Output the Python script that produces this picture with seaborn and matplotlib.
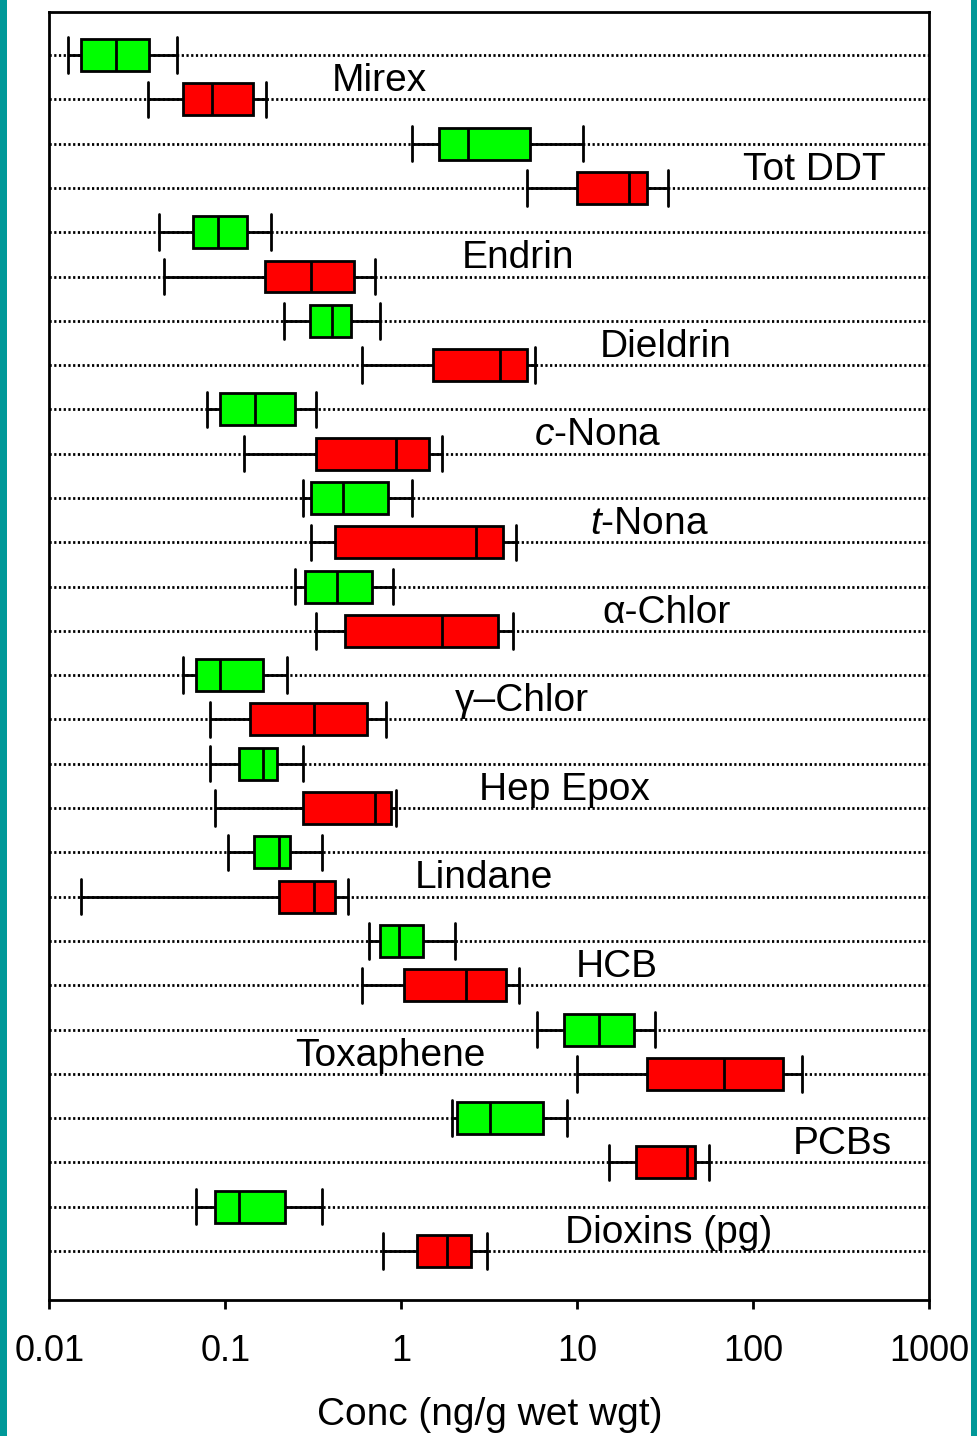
import matplotlib
matplotlib.use("Agg")
import matplotlib.pyplot as plt
from matplotlib.patches import Rectangle
from matplotlib.ticker import FixedLocator, FixedFormatter, NullLocator
import pandas as pd
import seaborn as sns

# Compounds, top to bottom
compounds = ["Mirex", "Tot DDT", "Endrin", "Dieldrin", "c-Nona", "t-Nona",
             "a-Chlor", "g-Chlor", "Hep Epox", "Lindane", "HCB", "Toxaphene",
             "PCBs", "Dioxins (pg)"]
compound_labels = ["Mirex", "Tot DDT", "Endrin", "Dieldrin", "$c$-Nona", "$t$-Nona",
                   "α-Chlor", "γ–Chlor", "Hep Epox", "Lindane", "HCB", "Toxaphene",
                   "PCBs", "Dioxins (pg)"]

series_names = ["Series 1", "Series 2"]
series_colors = ["#00FF00", "#FF0000"]

# Five-number summaries (ng/g wet weight) -- series 1 (green)
s1_min = [0.0127, 1.15, 0.0417, 0.216, 0.0782, 0.276, 0.248, 0.0576, 0.0813, 0.104, 0.656, 5.91, 1.94, 0.0682]
s1_q1  = [0.0151, 1.63, 0.0654, 0.303, 0.0931, 0.305, 0.284, 0.068, 0.119, 0.146, 0.752, 8.35, 2.08, 0.0868]
s1_med = [0.0240, 2.40, 0.0910, 0.403, 0.147, 0.465, 0.432, 0.0931, 0.163, 0.201, 0.972, 13.25, 3.17, 0.120]
s1_q3  = [0.0366, 5.37, 0.133, 0.517, 0.249, 0.841, 0.682, 0.163, 0.195, 0.233, 1.325, 20.9, 6.39, 0.217]
s1_max = [0.0532, 10.7, 0.181, 0.758, 0.328, 1.15, 0.898, 0.224, 0.276, 0.352, 2.01, 27.7, 8.68, 0.352]

# Five-number summaries -- series 2 (red)
s2_min = [0.0364, 5.14, 0.0449, 0.594, 0.128, 0.305, 0.327, 0.0813, 0.0868, 0.0152, 0.594, 9.97, 15.2, 0.785]
s2_q1  = [0.0571, 9.94, 0.168, 1.52, 0.327, 0.417, 0.480, 0.137, 0.276, 0.201, 1.03, 24.7, 21.4, 1.23]
s2_med = [0.0841, 19.5, 0.306, 3.65, 0.934, 2.65, 1.70, 0.317, 0.707, 0.317, 2.32, 68.2, 41.9, 1.81]
s2_q3  = [0.143, 24.9, 0.535, 5.19, 1.43, 3.77, 3.52, 0.637, 0.875, 0.421, 3.92, 147.0, 46.7, 2.48]
s2_max = [0.169, 32.8, 0.707, 5.74, 1.69, 4.47, 4.32, 0.813, 0.934, 0.499, 4.65, 188.0, 55.6, 3.05]

# Horizontal anchor of each compound name (fraction of axes width)
label_xfrac = [0.375, 0.869, 0.532, 0.700, 0.623, 0.682, 0.701, 0.537, 0.585,
               0.494, 0.645, 0.387, 0.901, 0.704]

tick_values = [0.01, 0.1, 1, 10, 100, 1000]
tick_labels = ["0.01", "0.1", "1", "10", "100", "1000"]

# Long-form table: the five summary values per box reproduce the quartiles
# and (with 0-100 percentile whiskers) the whisker ends exactly.
rows = []
for name, stats in ((series_names[0], (s1_min, s1_q1, s1_med, s1_q3, s1_max)),
                    (series_names[1], (s2_min, s2_q1, s2_med, s2_q3, s2_max))):
    for i, comp in enumerate(compounds):
        for arr in stats:
            rows.append((comp, name, arr[i]))
df = pd.DataFrame(rows, columns=["compound", "series", "conc"])

sns.set_theme(style="white")
plt.rcParams["font.family"] = ["Liberation Sans", "DejaVu Sans"]
plt.rcParams["mathtext.fontset"] = "custom"
plt.rcParams["mathtext.rm"] = "Liberation Sans"
plt.rcParams["mathtext.it"] = "Liberation Sans:italic"

fig = plt.figure(figsize=(9.78, 14.36), dpi=100)
ax = fig.add_axes([0.0506, 0.0947, 0.8998, 0.8969])

sns.boxplot(data=df, x="conc", y="compound", hue="series",
            order=compounds, hue_order=series_names,
            palette=dict(zip(series_names, series_colors)),
            log_scale=True, whis=(0, 100), width=1.0, gap=0.278,
            saturation=1, linewidth=2.0, linecolor="black",
            fliersize=0, legend=False, capwidths=0.40, ax=ax)

# Dotted guide line through every box row
n = len(compounds)
offsets = [-0.25, 0.25]
for i in range(n):
    for off in offsets:
        ax.axhline(i + off, color="black", lw=2.0, ls=(0, (0.8, 0.9)),
                   zorder=0.5)

ax.set_xlim(tick_values[0], tick_values[-1])
ax.set_ylim(n - 0.75 + 0.553, -0.735)
ax.xaxis.set_major_locator(FixedLocator(tick_values))
ax.xaxis.set_major_formatter(FixedFormatter(tick_labels))
ax.xaxis.set_minor_locator(NullLocator())
ax.set_yticks([])
ax.set_ylabel("")
ax.set_xlabel("Conc (ng/g wet wgt)", fontsize=28, color="black", labelpad=20)
ax.tick_params(axis="x", which="major", bottom=True, direction="out",
               length=6.5, width=2.0, color="black", labelsize=26,
               labelcolor="black", pad=18)
for sp in ax.spines.values():
    sp.set_visible(True)
    sp.set_color("black")
    sp.set_linewidth(2.0)

for i, (txt, fx) in enumerate(zip(compound_labels, label_xfrac)):
    ax.annotate(txt, xy=(fx, i), xycoords=("axes fraction", "data"),
                xytext=(0, -10), textcoords="offset points",
                ha="center", va="baseline", fontsize=28, color="black")

# Teal frame strips at the left and right edges
fig.add_artist(Rectangle((0, 0), 7 / 978, 1, transform=fig.transFigure,
                         facecolor="#009999", edgecolor="none"))
fig.add_artist(Rectangle((971 / 978, 0), 7 / 978, 1, transform=fig.transFigure,
                         facecolor="#009999", edgecolor="none"))

fig.savefig("out.png", dpi=100, facecolor="white")
